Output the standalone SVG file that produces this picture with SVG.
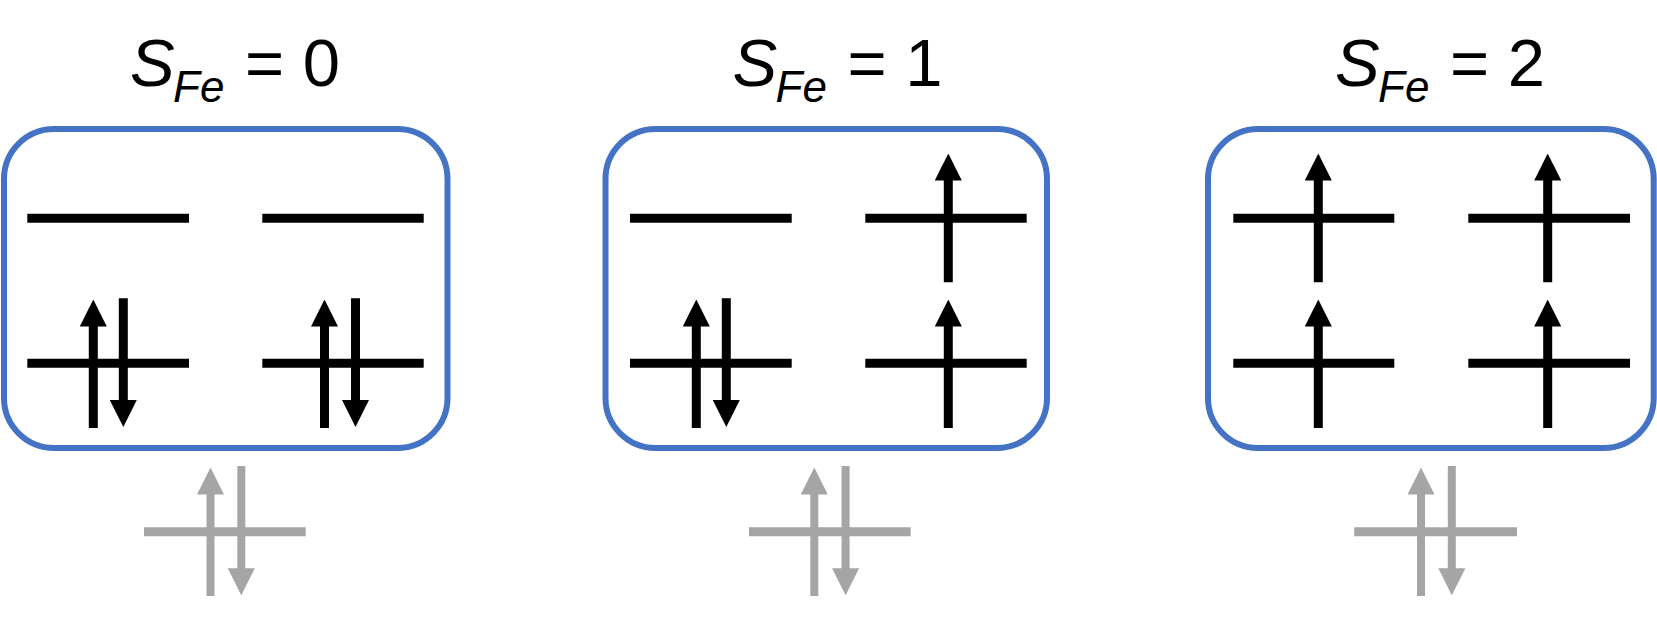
<svg xmlns="http://www.w3.org/2000/svg" width="1657" height="624" viewBox="0 0 1657 624">
<style>
  .box { fill: #FFFFFF; stroke: #4472C4; stroke-width: 6; }
  .lvl { stroke: #000000; stroke-width: 9; fill: none; }
  .spin { stroke: #000000; stroke-width: 9; fill: none; marker-end: url(#ah); }
  .glvl { stroke: #A5A5A5; stroke-width: 9; fill: none; }
  .gspin { stroke: #A5A5A5; stroke-width: 8; fill: none; marker-end: url(#gah); }
  .title { font-family: "Liberation Sans", Arial, sans-serif; font-size: 67px; fill: #000000; }
  .it { font-style: italic; }
  .sub { font-size: 44px; font-style: italic; }
</style>
<defs>
  <marker id="ah" markerUnits="userSpaceOnUse" viewBox="0 0 27 27" markerWidth="27" markerHeight="27" refX="1" refY="13.5" orient="auto">
    <path d="M0,0 L27,13.5 L0,27 Z" fill="#000000"/>
  </marker>
  <marker id="gah" markerUnits="userSpaceOnUse" viewBox="0 0 27 27" markerWidth="27" markerHeight="27" refX="1" refY="13.5" orient="auto">
    <path d="M0,0 L27,13.5 L0,27 Z" fill="#A5A5A5"/>
  </marker>
</defs>
<rect width="1657" height="624" fill="#FFFFFF"/>

<g id="title-s0">
  <text class="title" y="86"><tspan class="it" x="130">S</tspan><tspan class="sub" x="173" y="102">Fe</tspan><tspan x="245" y="86">= 0</tspan></text>
</g>
<g id="title-s1">
  <text class="title" y="86"><tspan class="it" x="732.5">S</tspan><tspan class="sub" x="775.5" y="102">Fe</tspan><tspan x="847.5" y="86">= 1</tspan></text>
</g>
<g id="title-s2">
  <text class="title" y="86"><tspan class="it" x="1335">S</tspan><tspan class="sub" x="1378" y="102">Fe</tspan><tspan x="1450" y="86">= 2</tspan></text>
</g>

<g id="box-s0">
  <rect class="box" x="4" y="129" width="443.5" height="319" rx="50" ry="50"/>
  <line class="lvl" x1="27.3" y1="218.3" x2="189" y2="218.3"/>
  <line class="lvl" x1="262.3" y1="218.3" x2="423.7" y2="218.3"/>
  <line class="lvl" x1="27.3" y1="363.3" x2="189" y2="363.3"/>
  <line class="lvl" x1="262.3" y1="363.3" x2="423.7" y2="363.3"/>
  <line class="spin" x1="93.3" y1="428" x2="93.3" y2="325.5"/>
  <line class="spin" x1="123.3" y1="298.3" x2="123.3" y2="401"/>
  <line class="spin" x1="324.5" y1="428" x2="324.5" y2="325.5"/>
  <line class="spin" x1="355.5" y1="298.3" x2="355.5" y2="401"/>
</g>

<g id="box-s1">
  <rect class="box" x="605.5" y="129" width="441.5" height="319" rx="50" ry="50"/>
  <line class="lvl" x1="630" y1="218.3" x2="791.7" y2="218.3"/>
  <line class="lvl" x1="865.3" y1="218.3" x2="1026.7" y2="218.3"/>
  <line class="lvl" x1="630" y1="363.3" x2="791.7" y2="363.3"/>
  <line class="lvl" x1="865.3" y1="363.3" x2="1026.7" y2="363.3"/>
  <line class="spin" x1="696.3" y1="428" x2="696.3" y2="325.5"/>
  <line class="spin" x1="726.3" y1="298.3" x2="726.3" y2="401"/>
  <line class="spin" x1="948.3" y1="282.3" x2="948.3" y2="179.5"/>
  <line class="spin" x1="948.3" y1="428" x2="948.3" y2="325.5"/>
</g>

<g id="box-s2">
  <rect class="box" x="1208" y="129" width="445.7" height="319" rx="50" ry="50"/>
  <line class="lvl" x1="1233.3" y1="218.3" x2="1394.3" y2="218.3"/>
  <line class="lvl" x1="1468.3" y1="218.3" x2="1630" y2="218.3"/>
  <line class="lvl" x1="1233.3" y1="363.3" x2="1394.3" y2="363.3"/>
  <line class="lvl" x1="1468.3" y1="363.3" x2="1630" y2="363.3"/>
  <line class="spin" x1="1318.3" y1="282.3" x2="1318.3" y2="179.5"/>
  <line class="spin" x1="1318.3" y1="428" x2="1318.3" y2="325.5"/>
  <line class="spin" x1="1547.7" y1="282.3" x2="1547.7" y2="179.5"/>
  <line class="spin" x1="1547.7" y1="428" x2="1547.7" y2="325.5"/>
</g>

<g id="ligand-s0">
  <line class="glvl" x1="144" y1="531.7" x2="305.7" y2="531.7"/>
  <line class="gspin" x1="210.5" y1="596" x2="210.5" y2="493.5"/>
  <line class="gspin" x1="241.3" y1="466" x2="241.3" y2="569.3"/>
</g>
<g id="ligand-s1">
  <line class="glvl" x1="749" y1="531.7" x2="910.7" y2="531.7"/>
  <line class="gspin" x1="814.3" y1="596" x2="814.3" y2="493.5"/>
  <line class="gspin" x1="845.6" y1="466" x2="845.6" y2="569.3"/>
</g>
<g id="ligand-s2">
  <line class="glvl" x1="1354.2" y1="531.7" x2="1517" y2="531.7"/>
  <line class="gspin" x1="1421" y1="596" x2="1421" y2="493.5"/>
  <line class="gspin" x1="1451.8" y1="466" x2="1451.8" y2="569.3"/>
</g>
</svg>
